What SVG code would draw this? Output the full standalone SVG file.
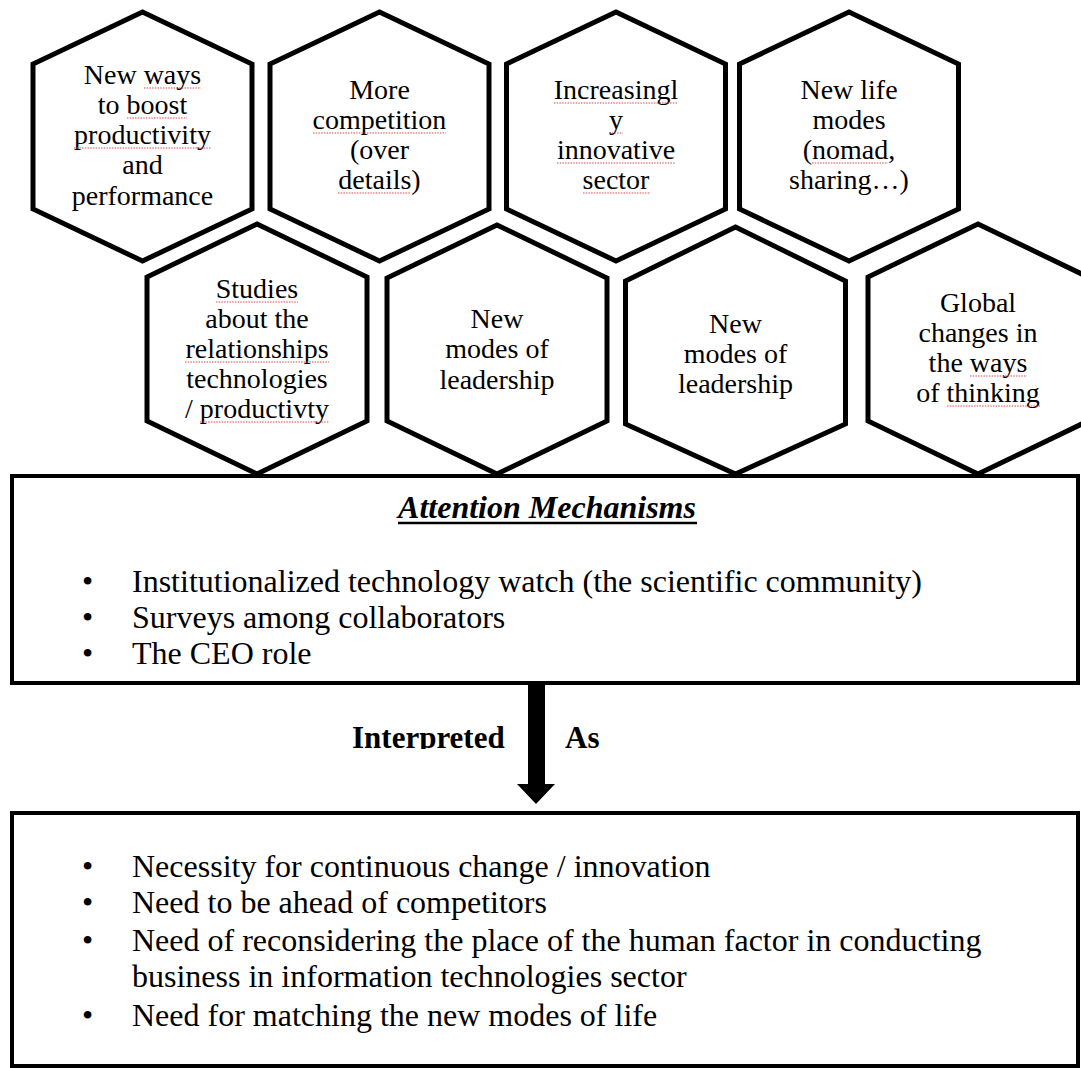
<svg xmlns="http://www.w3.org/2000/svg" width="1081" height="1068" viewBox="0 0 1081 1068">
<style>
.hex{fill:#fff;stroke:#000;stroke-width:5;stroke-linejoin:miter}
.ht{font-family:"Liberation Serif","Times New Roman",serif;font-size:28px;fill:#000;text-anchor:middle}
.box{fill:#fff;stroke:#000;stroke-width:4}
.bt{font-family:"Liberation Serif","Times New Roman",serif;font-size:32px;fill:#000}
.sq{stroke:#e04848;stroke-width:1.2;stroke-dasharray:1.5 1.2;fill:none}
.lbl{font-family:"Liberation Serif","Times New Roman",serif;font-size:31px;font-weight:bold;fill:#000}
</style>
<defs>
<clipPath id="clipInt"><rect x="300" y="700" width="400" height="49"/></clipPath>
</defs>
<rect width="1081" height="1068" fill="#fff"/>

<g id="box-attention">
<rect class="box" x="12" y="476" width="1066" height="207"/>
<text class="bt" x="547" y="518" text-anchor="middle" font-weight="bold" font-style="italic">Attention Mechanisms</text>
<line x1="398" y1="523" x2="697" y2="523" stroke="#000" stroke-width="2.5"/>
<text class="bt" x="82" y="592">•</text>
<text class="bt" x="132" y="592">Institutionalized technology watch (the scientific community)</text>
<text class="bt" x="82" y="628">•</text>
<text class="bt" x="132" y="628">Surveys among collaborators</text>
<text class="bt" x="82" y="664">•</text>
<text class="bt" x="132" y="664">The CEO role</text>
</g>

<g id="box-interpretation">
<rect class="box" x="12" y="813" width="1066" height="253"/>
<text class="bt" x="82" y="877">•</text>
<text class="bt" x="132" y="877">Necessity for continuous change / innovation</text>
<text class="bt" x="82" y="913">•</text>
<text class="bt" x="132" y="913">Need to be ahead of competitors</text>
<text class="bt" x="82" y="951">•</text>
<text class="bt" x="132" y="951">Need of reconsidering the place of the human factor in conducting</text>
<text class="bt" x="132" y="987">business in information technologies sector</text>
<text class="bt" x="82" y="1026">•</text>
<text class="bt" x="132" y="1026">Need for matching the new modes of life</text>
</g>

<g id="hex1">
<polygon class="hex" points="142.5,12 252,64 252,209 142.5,261 33,209 33,64"/>
<text class="ht" x="142.5" y="84">New ways</text>
<text class="ht" x="142.5" y="114">to boost</text>
<text class="ht" x="142.5" y="144">productivity</text>
<text class="ht" x="142.5" y="174">and</text>
<text class="ht" x="142.5" y="205">performance</text>
<path class="sq" d="M144,88H201M127,118H187M74,148H211"/>
</g>
<g id="hex2">
<polygon class="hex" points="379.5,12 489,64 489,209 379.5,261 270,209 270,64"/>
<text class="ht" x="379.5" y="99">More</text>
<text class="ht" x="379.5" y="129">competition</text>
<text class="ht" x="379.5" y="159">(over</text>
<text class="ht" x="379.5" y="189">details)</text>
<path class="sq" d="M313,133H446M338,193H411"/>
</g>
<g id="hex3">
<polygon class="hex" points="616,12 725.5,64 725.5,209 616,261 506.5,209 506.5,64"/>
<text class="ht" x="616" y="99">Increasingl</text>
<text class="ht" x="616" y="129">y</text>
<text class="ht" x="616" y="159">innovative</text>
<text class="ht" x="616" y="189">sector</text>
<path class="sq" d="M554,103H678M609,133H623M557,163H675M583,193H650"/>
</g>
<g id="hex4">
<polygon class="hex" points="849,12 958.5,64 958.5,209 849,261 739.5,209 739.5,64"/>
<text class="ht" x="849" y="99">New life</text>
<text class="ht" x="849" y="129">modes</text>
<text class="ht" x="849" y="159">(nomad,</text>
<text class="ht" x="849" y="189">sharing…)</text>
<path class="sq" d="M812,163H888"/>
</g>
<g id="hex5">
<polygon class="hex" points="257,224 367,277 367,421 257,474 147,421 147,277"/>
<text class="ht" x="257" y="298">Studies</text>
<text class="ht" x="257" y="328">about the</text>
<text class="ht" x="257" y="358">relationships</text>
<text class="ht" x="257" y="388">technologies</text>
<text class="ht" x="257" y="418">/ productivty</text>
<path class="sq" d="M216,302H298M185,362H329M200,422H329"/>
</g>
<g id="hex6">
<polygon class="hex" points="497,225 607,278 607,421 497,474 387,421 387,278"/>
<text class="ht" x="497" y="328">New</text>
<text class="ht" x="497" y="358">modes of</text>
<text class="ht" x="497" y="389">leadership</text>
</g>
<g id="hex7">
<polygon class="hex" points="735.5,227 845.5,281 845.5,424 735.5,474 625.5,424 625.5,281"/>
<text class="ht" x="735.5" y="333">New</text>
<text class="ht" x="735.5" y="363">modes of</text>
<text class="ht" x="735.5" y="393">leadership</text>
</g>
<g id="hex8">
<polygon class="hex" points="978,224 1088,277 1088,421 978,474 868,421 868,277"/>
<text class="ht" x="978" y="312">Global</text>
<text class="ht" x="978" y="342">changes in</text>
<text class="ht" x="978" y="372">the ways</text>
<text class="ht" x="978" y="402">of thinking</text>
<path class="sq" d="M970,376H1027M947,406H1040"/>
</g>

<g id="connectors">
<polygon points="528,683 545,683 545,784 555,784 536,804 517,784 528,784" fill="#000"/>
<text class="lbl" x="352" y="748" clip-path="url(#clipInt)">Interpreted</text>
<text class="lbl" x="565" y="748">As</text>
</g>
</svg>
